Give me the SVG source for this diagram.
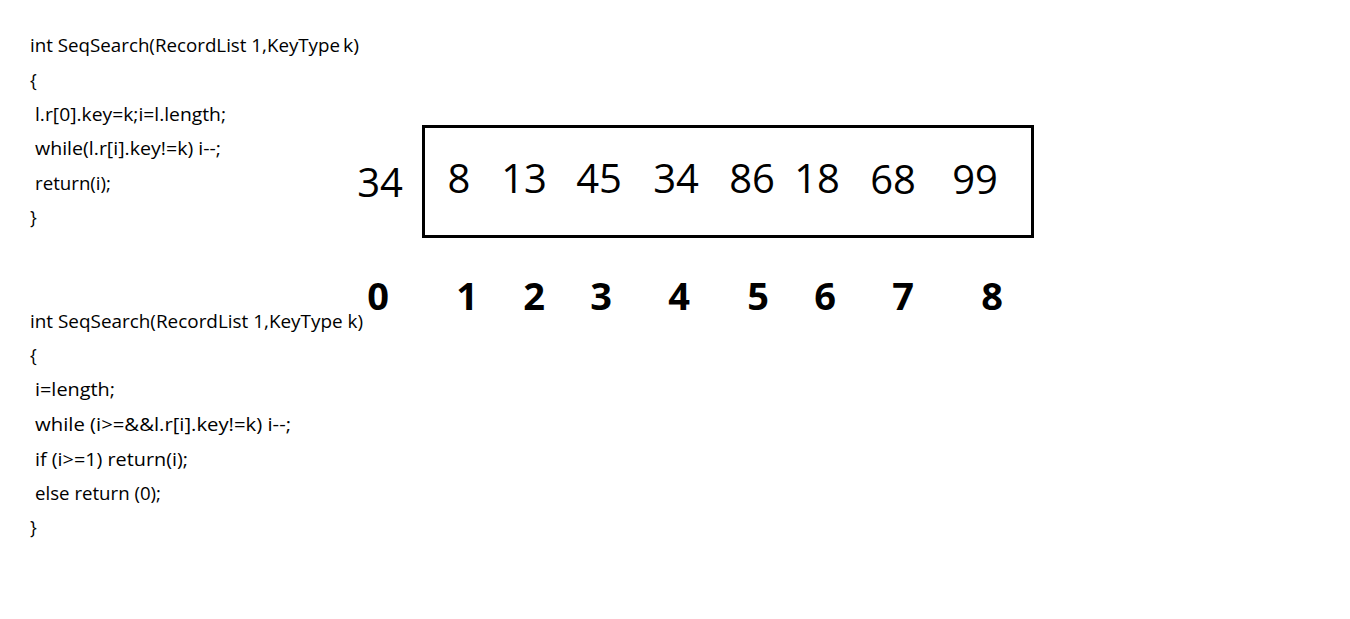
<svg xmlns="http://www.w3.org/2000/svg" width="1350" height="619" viewBox="0 0 1350 619">
<style>
.code{font-family:"Open Sans","Noto Sans",sans-serif;font-size:18px;fill:#000}
.val{font-family:"Open Sans","Noto Sans",sans-serif;font-size:40px;fill:#000;text-anchor:middle}
.idx{font-family:"Open Sans","Noto Sans",sans-serif;font-size:38px;font-weight:bold;fill:#000;text-anchor:middle}
</style>
<rect width="1350" height="619" fill="#fff"/>
<g id="code1">
<text class="code" x="30" y="52" textLength="310" lengthAdjust="spacingAndGlyphs">int SeqSearch(RecordList 1,KeyType</text>
<text class="code" x="343" y="52" textLength="16" lengthAdjust="spacingAndGlyphs">k)</text>
<text class="code" x="30" y="87">{</text>
<text class="code" x="35" y="121" textLength="191" lengthAdjust="spacingAndGlyphs">l.r[0].key=k;i=l.length;</text>
<text class="code" x="35" y="155" textLength="186" lengthAdjust="spacingAndGlyphs">while(l.r[i].key!=k) i--;</text>
<text class="code" x="35" y="190" textLength="76" lengthAdjust="spacingAndGlyphs">return(i);</text>
<text class="code" x="30" y="224">}</text>
</g>
<g id="code2">
<text class="code" x="30" y="328" textLength="333" lengthAdjust="spacingAndGlyphs">int SeqSearch(RecordList 1,KeyType k)</text>
<text class="code" x="30" y="362">{</text>
<text class="code" x="35" y="396" textLength="80" lengthAdjust="spacingAndGlyphs">i=length;</text>
<text class="code" x="35" y="431" textLength="256" lengthAdjust="spacingAndGlyphs">while (i&gt;=&amp;&amp;l.r[i].key!=k) i--;</text>
<text class="code" x="35" y="466" textLength="153" lengthAdjust="spacingAndGlyphs">if (i&gt;=1) return(i);</text>
<text class="code" x="35" y="500" textLength="126" lengthAdjust="spacingAndGlyphs">else return (0);</text>
<text class="code" x="30" y="534">}</text>
</g>
<g id="array">
<rect x="423.5" y="126.5" width="609" height="110" fill="none" stroke="#000" stroke-width="3"/>
<text class="val" x="380" y="197">34</text>
<text class="val" x="459" y="193">8</text>
<text class="val" x="524" y="193">13</text>
<text class="val" x="599" y="193">45</text>
<text class="val" x="676" y="193">34</text>
<text class="val" x="752" y="193">86</text>
<text class="val" x="817" y="193">18</text>
<text class="val" x="893" y="194">68</text>
<text class="val" x="975" y="194">99</text>
</g>
<g id="indices">
<text class="idx" x="378" y="310">0</text>
<text class="idx" x="467" y="310">1</text>
<text class="idx" x="534" y="310">2</text>
<text class="idx" x="601" y="310">3</text>
<text class="idx" x="679" y="310">4</text>
<text class="idx" x="758" y="310">5</text>
<text class="idx" x="825" y="310">6</text>
<text class="idx" x="903" y="310">7</text>
<text class="idx" x="992" y="310">8</text>
</g>
<g id="connectors"/>
</svg>
